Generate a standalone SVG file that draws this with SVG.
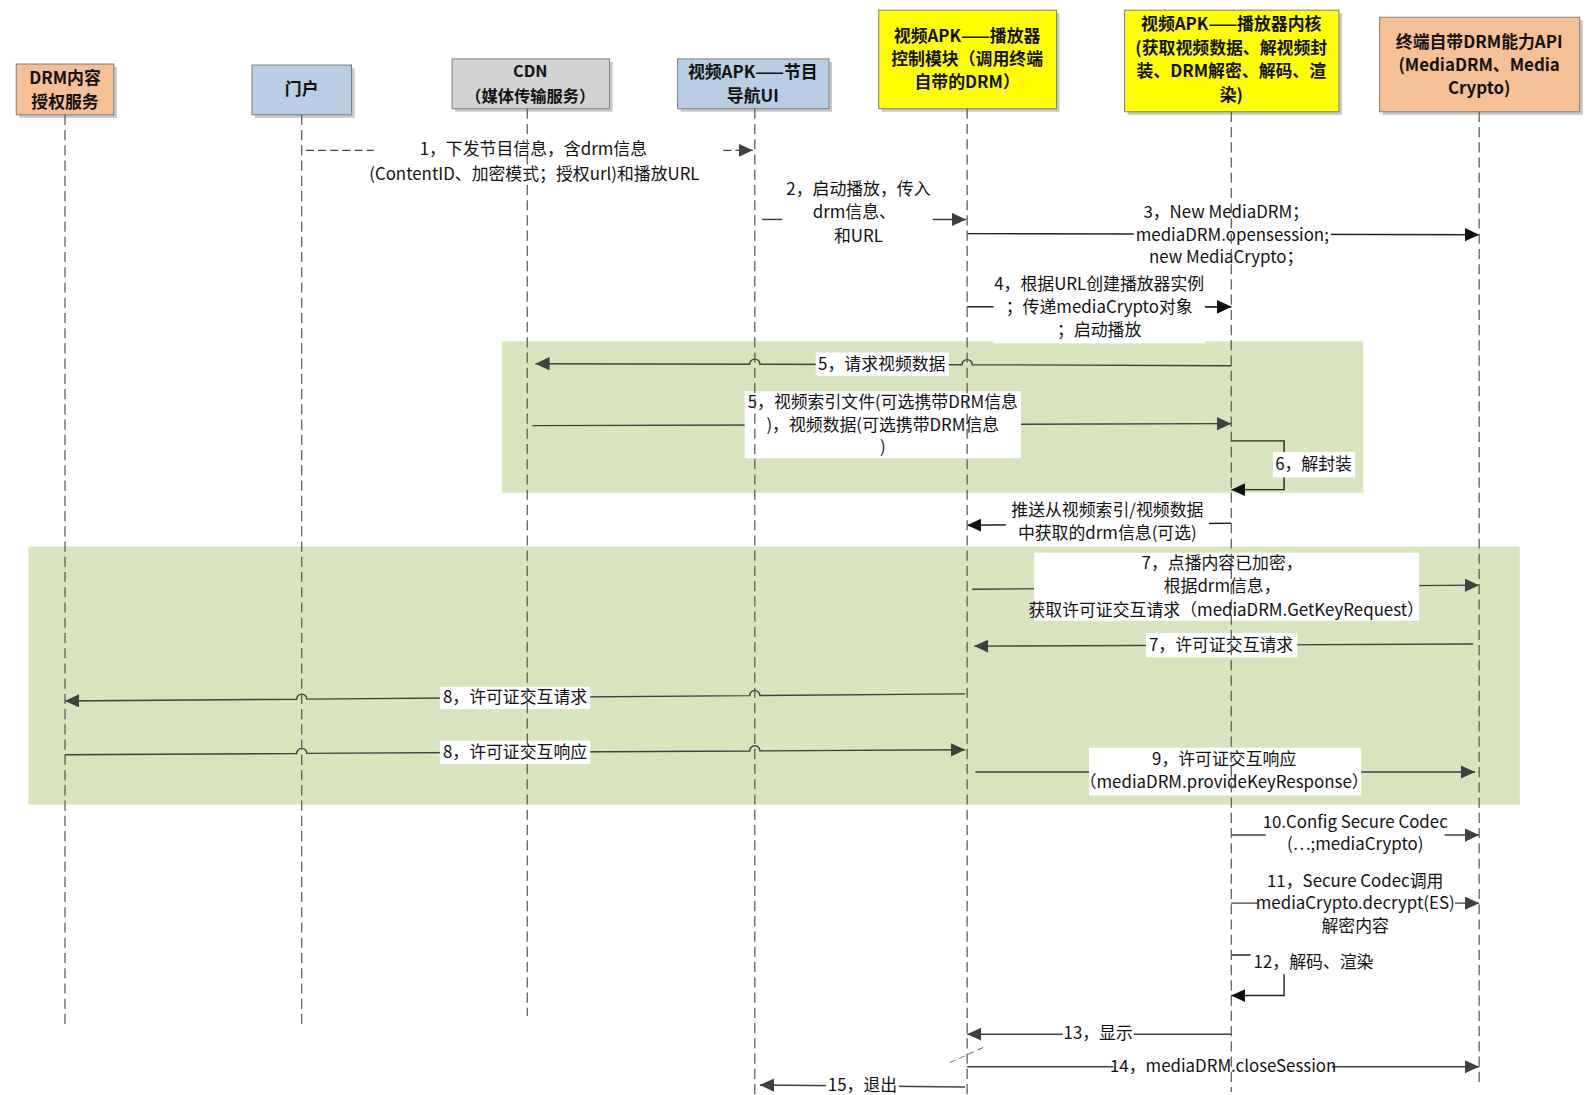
<svg xmlns="http://www.w3.org/2000/svg" width="1593" height="1095" viewBox="0 0 1593 1095">
<style>
.hd{font-family:"Noto Sans CJK SC","Liberation Sans",sans-serif;font-size:16.6px;font-weight:bold;fill:#111;text-anchor:middle}
.t{font-family:"Noto Sans CJK SC","Liberation Sans",sans-serif;font-size:16.6px;fill:#111;text-anchor:middle}
.ll{stroke:#555;stroke-width:1.2;stroke-dasharray:10 5;fill:none}
.m{stroke:#404040;stroke-width:1.4;fill:none;marker-end:url(#ah)}
.mk{stroke:#222;stroke-width:1.4;fill:none;marker-end:url(#ak)}
.s{stroke:#404040;stroke-width:1.4;fill:none}
.lb{fill:#fff}
.box{stroke:#7f7f7f;stroke-width:1}
.sh{fill:#c8c8c8}
.band{fill:#d7e4bd}
</style>
<defs>
<marker id="ah" markerUnits="userSpaceOnUse" markerWidth="15" markerHeight="14" refX="14" refY="6.5" orient="auto"><path d="M0,0 L14,6.5 L0,13 z" fill="#404040"/></marker>
<marker id="ak" markerUnits="userSpaceOnUse" markerWidth="15" markerHeight="14" refX="14" refY="6.5" orient="auto"><path d="M0,0 L14,6.5 L0,13 z" fill="#111"/></marker>
</defs>
<rect width="1593" height="1095" fill="#fff"/>
<g transform="scale(1.0159)">
<g id="bands">
<rect class="band" x="494" y="336" width="848" height="149"/>
<rect class="band" x="28" y="538" width="1468" height="254"/>
</g>
<g id="connectors">
<!-- 1 -->
<path d="M301 148 H368" class="s" stroke-dasharray="8 4"/>
<path d="M712 148 H741" class="m" stroke-dasharray="8 4"/>
<text class="t" x="525" y="153">1，下发节目信息，含drm信息</text>
<text class="t" x="526" y="177">(ContentID、加密模式；授权url)和播放URL</text>
<!-- 2 -->
<path d="M750 216 H770" class="s"/>
<path d="M918 216 H951" class="m"/>
<text class="t" x="845" y="192">2，启动播放，传入</text>
<text class="t" x="841" y="215">drm信息、</text>
<text class="t" x="845" y="238">和URL</text>
<!-- 3 -->
<path d="M952 230 L1456 231" class="mk"/>
<rect class="lb" x="1116" y="221" width="194" height="19"/>
<text class="t" x="1207" y="215">3，New MediaDRM；</text>
<text class="t" x="1213" y="237">mediaDRM.opensession;</text>
<text class="t" x="1207" y="259">new MediaCrypto；</text>
<!-- 4 -->
<path d="M952 302 H1212" class="mk"/>
<rect class="lb" x="978" y="268" width="208" height="70"/>
<path d="M1187 302 H1212" class="mk"/>
<text class="t" x="1082" y="285">4，根据URL创建播放器实例</text>
<text class="t" x="1082" y="308">；传递mediaCrypto对象</text>
<text class="t" x="1082" y="331">；启动播放</text>
<!-- 5a -->
<path d="M1212 360 L957 359 A5 5 0 0 0 947 359 L748 358.5 A5 5 0 0 0 738 358.5 L527 358" class="m"/>
<rect class="lb" x="803" y="347" width="131" height="23"/>
<text class="t" x="868" y="364">5，请求视频数据</text>
<!-- 5b -->
<path d="M524 419 L1212 417" class="m"/>
<rect class="lb" x="733" y="385" width="272" height="66"/>
<text class="t" x="869" y="402">5，视频索引文件(可选携带DRM信息</text>
<text class="t" x="869" y="424">)，视频数据(可选携带DRM信息</text>
<text class="t" x="869" y="446">)</text>
<!-- 6 -->
<path d="M1212 434 H1264 V482 H1212" class="mk"/>
<rect class="lb" x="1253" y="445" width="81" height="25"/>
<text class="t" x="1293" y="463">6，解封装</text>
<!-- push -->
<path d="M1212 515 L952 517" class="mk"/>
<rect class="lb" x="990" y="490" width="200" height="46"/>
<text class="t" x="1090" y="508">推送从视频索引/视频数据</text>
<text class="t" x="1090" y="531">中获取的drm信息(可选)</text>
<!-- 7a -->
<path d="M957 580 L1456 576" class="m"/>
<rect class="lb" x="1018" y="544" width="379" height="67"/>
<text class="t" x="1203" y="560">7，点播内容已加密，</text>
<text class="t" x="1203" y="583">根据drm信息，</text>
<text class="t" x="1207" y="606">获取许可证交互请求（mediaDRM.GetKeyRequest）</text>
<!-- 7b -->
<path d="M1450 634 L959 636" class="m"/>
<rect class="lb" x="1128" y="623" width="149" height="24"/>
<text class="t" x="1202" y="641">7，许可证交互请求</text>
<!-- 8a -->
<path d="M950 683 L748 684.6 A5 5 0 0 0 738 684.7 L302 688.2 A5 5 0 0 0 292 688.3 L64 690" class="m"/>
<rect class="lb" x="433" y="676" width="148" height="22"/>
<text class="t" x="507" y="692">8，许可证交互请求</text>
<!-- 8b -->
<path d="M64 743 L292 741.7 A5 5 0 0 1 302 741.6 L738 739.2 A5 5 0 0 1 748 739.1 L950 738" class="m"/>
<rect class="lb" x="433" y="729" width="148" height="23"/>
<text class="t" x="507" y="746">8，许可证交互响应</text>
<!-- 9 -->
<path d="M960 760 H1452" class="m"/>
<rect class="lb" x="1072" y="736" width="268" height="47"/>
<text class="t" x="1205" y="753">9，许可证交互响应</text>
<text class="t" x="1205" y="776">（mediaDRM.provideKeyResponse）</text>
<!-- 10 -->
<path d="M1212 822 H1456" class="m"/>
<rect class="lb" x="1246" y="798" width="176" height="44"/>
<text class="t" x="1334" y="815">10.Config Secure Codec</text>
<text class="t" x="1334" y="837">(…;mediaCrypto)</text>
<!-- 11 -->
<path d="M1212 889 H1456" class="m"/>
<rect class="lb" x="1238" y="880" width="194" height="19"/>
<text class="t" x="1334" y="873">11，Secure Codec调用</text>
<text class="t" x="1334" y="895">mediaCrypto.decrypt(ES)</text>
<text class="t" x="1334" y="917">解密内容</text>
<!-- 12 -->
<path d="M1212 940 H1264 V980 H1212" class="mk"/>
<rect class="lb" x="1231" y="936" width="125" height="23"/>
<text class="t" x="1293" y="953">12，解码、渲染</text>
<!-- 13 -->
<path d="M1212 1018 H952" class="m"/>
<rect class="lb" x="1046" y="1007" width="70" height="22"/>
<text class="t" x="1081" y="1023">13，显示</text>
<!-- 14 -->
<path d="M935 1046 L970 1030" stroke="#666" stroke-width="1" stroke-dasharray="6 4" fill="none"/>
<path d="M952 1050 H1456" class="m"/>
<rect class="lb" x="1096" y="1039" width="215" height="22"/>
<text class="t" x="1204" y="1055">14，mediaDRM.closeSession</text>
<!-- 15 -->
<path d="M950 1070 L748 1068" class="m"/>
<rect class="lb" x="813" y="1058" width="72" height="20"/>
<text class="t" x="849" y="1074">15，退出</text>
</g>
<g id="n-drm">
<rect class="sh" x="19" y="66" width="96" height="50"/>
<rect class="box" x="16" y="63" width="96" height="50" fill="#f5c096"/>
<text class="hd" x="64" y="83">DRM内容</text>
<text class="hd" x="64" y="106">授权服务</text>
<line class="ll" x1="64" y1="113" x2="64" y2="1012"/>
</g>
<g id="n-portal">
<rect class="sh" x="251" y="67" width="98" height="49"/>
<rect class="box" x="248" y="64" width="98" height="49" fill="#b9cde4"/>
<text class="hd" x="297" y="94">门户</text>
<line class="ll" x1="297" y1="113" x2="297" y2="1012"/>
</g>
<g id="n-cdn">
<rect class="sh" x="448" y="61" width="155" height="49"/>
<rect class="box" x="445" y="58" width="155" height="49" fill="#d3d3d3"/>
<text class="hd" x="522" y="76" style="font-size:16px">CDN</text>
<text class="hd" x="522" y="100" style="font-size:16px">（媒体传输服务）</text>
<line class="ll" x1="519" y1="107" x2="519" y2="1000"/>
</g>
<g id="n-navui">
<rect class="sh" x="670" y="61" width="149" height="49"/>
<rect class="box" x="667" y="58" width="149" height="49" fill="#b9cde4"/>
<text class="hd" x="741" y="77">视频APK——节目</text>
<text class="hd" x="741" y="100">导航UI</text>
<line class="ll" x1="743" y1="107" x2="743" y2="1078"/>
</g>
<g id="n-ctrl">
<rect class="sh" x="868" y="13" width="175" height="97"/>
<rect class="box" x="865" y="10" width="175" height="97" fill="#ffff00"/>
<text class="hd" x="952" y="41">视频APK——播放器</text>
<text class="hd" x="952" y="64">控制模块（调用终端</text>
<text class="hd" x="952" y="87">自带的DRM）</text>
<line class="ll" x1="952" y1="107" x2="952" y2="1078"/>
</g>
<g id="n-core">
<rect class="sh" x="1110" y="13" width="211" height="100"/>
<rect class="box" x="1107" y="10" width="211" height="100" fill="#ffff00"/>
<text class="hd" x="1212" y="30">视频APK——播放器内核</text>
<text class="hd" x="1212" y="53">(获取视频数据、解视频封</text>
<text class="hd" x="1212" y="76">装、DRM解密、解码、渲</text>
<text class="hd" x="1212" y="99">染)</text>
<line class="ll" x1="1212" y1="110" x2="1212" y2="1075"/>
</g>
<g id="n-api">
<rect class="sh" x="1361" y="20" width="197" height="93"/>
<rect class="box" x="1358" y="17" width="197" height="93" fill="#f5c096"/>
<text class="hd" x="1456" y="47">终端自带DRM能力API</text>
<text class="hd" x="1456" y="70">(MediaDRM、Media</text>
<text class="hd" x="1456" y="93">Crypto)</text>
<line class="ll" x1="1456" y1="110" x2="1456" y2="1070"/>
</g>
</g>
</svg>
